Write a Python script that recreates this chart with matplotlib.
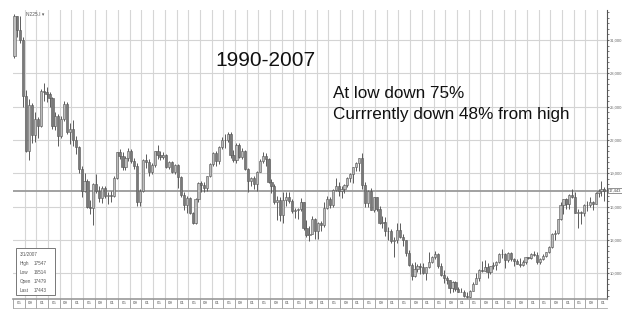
import numpy as np
import matplotlib
matplotlib.use("Agg")
import matplotlib.pyplot as plt
from matplotlib.patches import Rectangle
from matplotlib.ticker import MultipleLocator, FuncFormatter
import matplotlib.transforms as mtransforms

plt.rcParams["font.family"] = ["Liberation Sans", "DejaVu Sans"]

# Nikkei 225 monthly bars, May 1990 .. Mar 2007
first_open = 29584
closes = [
    33131, 31940, 31036, 25978, 20984, 25194, 22455, 23849,                       # 1990 (May-)
    23293, 26409, 26292, 26111, 25790, 23291, 24121, 22336, 23916, 25222, 22687, 22984,
    22023, 21339, 19346, 17391, 18348, 15952, 15910, 18061, 17399, 16767, 17684, 16925,
    17024, 16953, 18591, 20919, 20552, 19590, 20380, 21027, 20106, 19703, 16408, 17417,
    20229, 19997, 19112, 19725, 20974, 20644, 20449, 20629, 19564, 19990, 19076, 19723,
    18650, 17053, 16140, 16807, 15437, 14517, 16678, 18117, 17913, 17655, 18744, 19868,
    20813, 20125, 21407, 22041, 21956, 22531, 20693, 20167, 21556, 20467, 21020, 19361,
    18330, 18557, 18003, 19151, 20069, 20605, 20331, 18229, 17888, 16459, 16636, 15259,
    16628, 16832, 16527, 15641, 15671, 15830, 16379, 14108, 13406, 13564, 14884, 13842,
    14499, 14368, 15837, 16702, 16112, 17530, 17862, 17437, 17605, 17943, 18558, 18934,
    19540, 19960, 20337, 17974, 16332, 17411, 15727, 16861, 15747, 14540, 14649, 13786,
    13844, 12884, 12999, 13934, 13262, 12969, 11861, 10714, 9775, 10366, 10697, 10543,
    9998, 10588, 11025, 11493, 11764, 10622, 9878, 9619, 9383, 8640, 9216, 8579,
    8340, 8363, 7973, 7831, 8425, 9083, 9563, 10344, 10219, 10560, 10101, 10677,
    10784, 11042, 11715, 11762, 11236, 11859, 11326, 11082, 10824, 10771, 11031, 11489,
    11388, 11741, 11669, 11009, 11277, 11584, 11900, 12414, 13574, 13607, 14872, 16111,
    16650, 16205, 17060, 16906, 15467, 15505, 15457, 16141, 16128, 16399, 16274, 17226,
    17383, 17604, 17443,                                                          # 2007
]
highs = [
    33300, 33200, 33172, 31300, 26500, 25700, 25300, 24500,
    24100, 26600, 27146, 26800, 26300, 25900, 24500, 24300, 24200, 25500, 25400, 23500,
    23800, 22400, 21500, 19700, 19000, 18500, 16600, 18100, 18900, 17900, 17900, 17900,
    17300, 17400, 18800, 20950, 21200, 20900, 20600, 21281, 21200, 20400, 19900, 17600,
    20300, 20700, 20300, 19900, 21000, 21552, 21000, 20900, 20700, 20100, 20100, 19800,
    19800, 18800, 17300, 17000, 16900, 15500, 16800, 18200, 18300, 18200, 18800, 19900,
    20900, 21000, 21500, 22300, 22500, 22750, 22700, 21100, 21700, 21700, 21300, 21100,
    19500, 18700, 18800, 19200, 20300, 20910, 20800, 20400, 18500, 18000, 17000, 16900,
    17300, 17300, 17300, 16700, 15900, 15900, 16800, 16400, 14800, 14300, 15200, 15000,
    14600, 14700, 16400, 17000, 16900, 17600, 18600, 18200, 17900, 18000, 18700, 19000,
    19600, 20000, 20400, 20833, 18200, 17500, 17700, 16900, 16900, 16100, 15200, 15100,
    14200, 14000, 13300, 14500, 14500, 13500, 13000, 12100, 10900, 11000, 10800, 10900,
    10900, 10600, 11900, 11600, 12000, 11800, 10900, 10300, 9800, 9400, 9300, 9300,
    8800, 8700, 8500, 8300, 8500, 9200, 10000, 10400, 11100, 11200, 10900, 10700,
    11000, 11100, 11800, 12200, 11800, 11900, 11900, 11400, 11300, 11400, 11200, 11500,
    11500, 11800, 12000, 11900, 11400, 11700, 11950, 12500, 13600, 13900, 14900, 16400,
    16700, 16800, 17100, 17600, 17300, 15800, 15600, 16200, 16500, 16900, 16500, 17300,
    17600, 18300, 17800,
]
lows = [
    29400, 31300, 30700, 25000, 20900, 20221, 21700, 21800,
    22200, 23200, 25500, 25400, 25000, 23000, 22900, 21456, 22200, 23700, 22500, 21600,
    21500, 20700, 19000, 16900, 17300, 15900, 15300, 14309, 17200, 16400, 16300, 16800,
    16200, 16400, 16900, 18500, 20300, 19300, 19300, 20100, 19900, 19400, 16078, 16100,
    17300, 19500, 18800, 18900, 19600, 20300, 20200, 20300, 19500, 19400, 19000, 18900,
    17700, 16900, 15700, 15400, 15300, 14485, 14400, 16400, 17300, 17300, 17400, 18700,
    19700, 19700, 19800, 21200, 21300, 21800, 20400, 20000, 19900, 20400, 20300, 19300,
    17300, 17900, 17600, 17400, 19100, 19900, 19700, 18100, 17200, 16200, 14800, 14700,
    14500, 16100, 16300, 15400, 15000, 14900, 15600, 13900, 13300, 12880, 13500, 13100,
    13100, 13800, 14200, 15800, 15900, 16000, 17400, 17000, 16800, 17200, 17800, 18200,
    18100, 19200, 19200, 17600, 16000, 16000, 15700, 15500, 15600, 14400, 14100, 13400,
    13000, 12700, 11433, 12700, 13200, 12500, 11600, 10700, 9382, 9700, 10100, 9900,
    9900, 9420, 10500, 10900, 11300, 10500, 9800, 9100, 9000, 8200, 8300, 8400,
    8300, 8300, 7900, 7604, 7800, 8400, 9000, 9300, 10100, 10200, 9600, 9900,
    10400, 10300, 10900, 11400, 10500, 11000, 11100, 10700, 10800, 10600, 10700, 10800,
    11300, 11300, 11600, 10800, 10800, 11200, 11500, 11800, 12300, 13000, 13500, 14800,
    15300, 15800, 15800, 16800, 15400, 14045, 14400, 15200, 15600, 16000, 15700, 16200,
    16900, 17000, 16514,
]
y_ticks = [10000, 13000, 16000, 19000, 22000, 25000, 28000, 31000]
month_labels = ["05", "09", "01"]
last_value = 17443
info_lines = [("3/1/2007", ""), ("High", "17547"), ("Low", "16514"),
              ("Open", "17479"), ("Last", "17443")]

closes = np.array(closes, float)
highs = np.array(highs, float)
lows = np.array(lows, float)
opens = np.concatenate([[first_open], closes[:-1]])
n = len(closes)
x = np.arange(n) + 0.5

W, H = 622, 310
fig = plt.figure(figsize=(W / 100, H / 100), dpi=100)
ax = fig.add_axes([13 / W, 11 / H, 594 / W, 289 / H])

# grid
for gx in range(4, n + 1, 4):
    ax.axvline(gx, color="#d6d6d6", lw=0.8, zorder=0)
for gy in y_ticks:
    ax.axhline(gy, color="#d4d4d4", lw=0.8, zorder=0)
ax.axhline(last_value, color="#9a9a9a", lw=1.3, zorder=1)

# candles
up = closes >= opens
ax.vlines(x, lows, highs, color="#5c5c5c", lw=0.7, zorder=2)
ax.bar(x, np.abs(closes - opens), bottom=np.minimum(opens, closes), width=0.75,
       color=np.where(up, "#bdbdbd", "#7a7a7a"), edgecolor="#555555", linewidth=0.4,
       zorder=3)

ax.set_xlim(0, 203.4)
ax.set_ylim(7690, 33700)
for sp in ("left", "top"):
    ax.spines[sp].set_visible(False)
ax.spines["right"].set_color("#555555")
ax.spines["bottom"].set_color("#999999")
ax.spines["bottom"].set_linewidth(1.2)
ax.set_xticks([])
ax.yaxis.tick_right()
ax.set_yticks(y_ticks)
ax.yaxis.set_major_formatter(FuncFormatter(lambda v, p: f"{int(v):,}"))
ax.yaxis.set_minor_locator(MultipleLocator(500))
ax.tick_params(axis="y", which="major", labelsize=3, colors="#666666", length=1.5, pad=0.6)
ax.tick_params(axis="y", which="minor", length=1.2, color="#666666")

# last value tag on the price axis
tr = mtransforms.blended_transform_factory(ax.transAxes, ax.transData)
ax.text(1.003, last_value, f"{last_value:,}", transform=tr, fontsize=2.9, va="center",
        color="#444444",
        bbox=dict(boxstyle="square,pad=0.12", fc="white", ec="#666666", lw=0.5))

# month boxes under the axis
trx = mtransforms.blended_transform_factory(ax.transData, ax.transAxes)
for k in range(0, int(np.ceil(203.4 / 4))):
    ax.text(4 * k + 2, -0.014, month_labels[k % 3], transform=trx, fontsize=3.2,
            ha="center", va="center", color="#555555", clip_on=False)
    ax.plot([4 * k, 4 * k], [0, -0.03], transform=trx, color="#999999", lw=0.6,
            clip_on=False)
ax.plot([0, 1], [-0.03, -0.03], transform=ax.transAxes, color="#aaaaaa", lw=0.6,
        clip_on=False)

# info box
fig.patches.append(Rectangle((16 / W, 1 - 295 / H), 39 / W, 47 / H, transform=fig.transFigure,
                             fc="white", ec="#777777", lw=0.7, zorder=5))
for i, (lab, val) in enumerate(info_lines):
    yy = 1 - (254 + i * 9.2) / H
    fig.text(20 / W, yy, lab, fontsize=3.3, color="#555555", va="center", zorder=6)
    fig.text(34 / W, yy, val, fontsize=3.3, color="#555555", va="center", zorder=6)

fig.text(26 / W, 1 - 15 / H, "N225.I \u25be", fontsize=3.5, color="#555555", va="center")

# annotations
fig.text(215 / W, 1 - 66 / H, "1990-2007", fontsize=15, color="#111111", va="baseline")
fig.text(333 / W, 1 - 98 / H, "At low down 75%", fontsize=12.3, color="#111111",
         va="baseline")
fig.text(333 / W, 1 - 119 / H, "Currrently down 48% from high", fontsize=12.3,
         color="#111111", va="baseline")

fig.savefig("out.png", dpi=100)
